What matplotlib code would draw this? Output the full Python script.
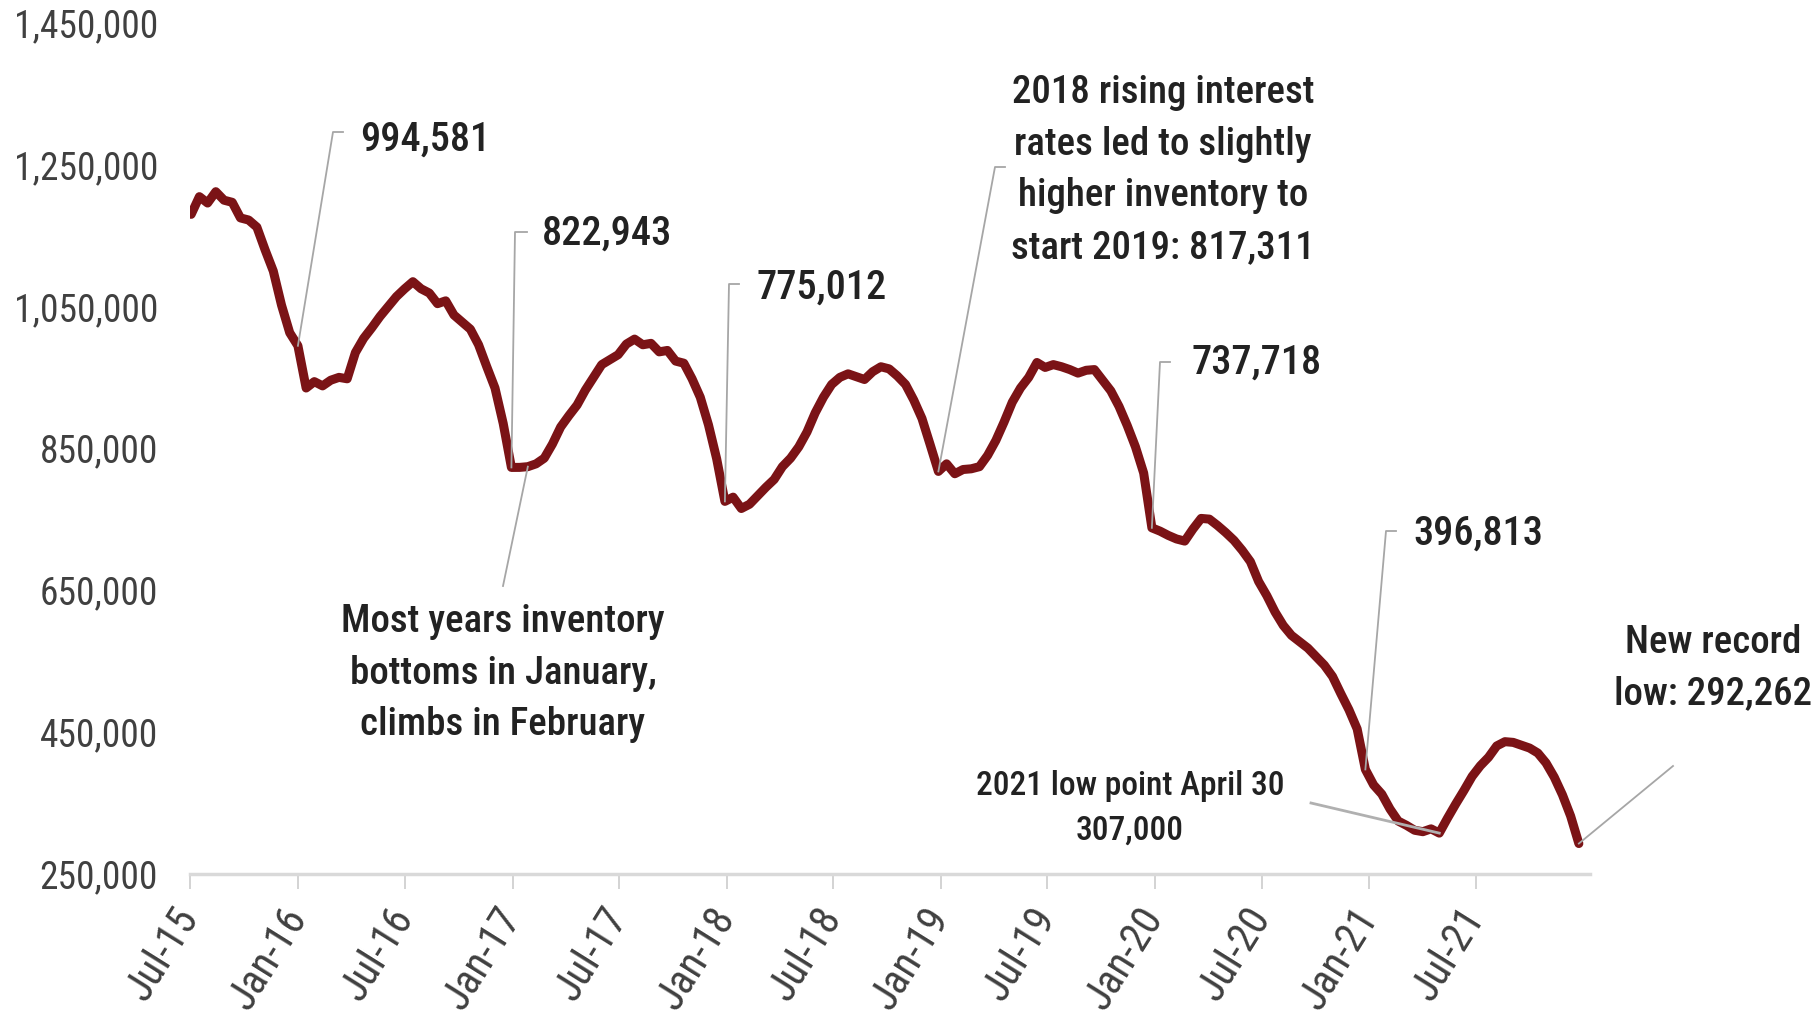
import matplotlib
matplotlib.use('agg')
import matplotlib.pyplot as plt
import matplotlib.dates as mdates
from matplotlib.lines import Line2D
import pandas as pd

# Active listings, one reading every two weeks starting the first Friday of July 2015
first_week = '2015-07-03'
inventory = [
    1180000, 1205000, 1196000, 1212000, 1200000, 1197000, 1175000, 1172000, 1162000, 1130000,
    1100000, 1052000, 1013000, 994581, 935000, 944000, 938000, 946000, 950000, 948000,
    985000, 1005000, 1020000, 1036000, 1050000, 1064000, 1075000, 1085000, 1075000, 1069000,
    1054000, 1058000, 1038000, 1028000, 1018000, 996000, 965000, 935000, 885000, 822943,
    823000, 824000, 828000, 836000, 856000, 880000, 896000, 911000, 932000, 950000,
    968000, 975000, 982000, 997000, 1004000, 996000, 998000, 986000, 988000, 973000,
    970000, 948000, 922000, 883000, 835000, 775012, 781000, 765000, 771000, 783000,
    795000, 806000, 824000, 836000, 852000, 873000, 900000, 922000, 940000, 950000,
    955000, 951000, 947000, 958000, 965000, 962000, 952000, 940000, 918000, 892000,
    855000, 817311, 828000, 814000, 820000, 821000, 824000, 840000, 861000, 887000,
    915000, 935000, 950000, 971000, 964000, 968000, 965000, 961000, 956000, 960000,
    961000, 946000, 931000, 909000, 882000, 852000, 815000, 737718, 733000, 727000,
    722000, 719000, 736000, 751000, 750000, 741000, 731000, 720000, 706000, 690000,
    662000, 642000, 619000, 600000, 586000, 577000, 568000, 556000, 544000, 528000,
    504000, 481000, 454000, 396813, 375000, 362000, 341000, 324000, 318000, 311000,
    309000, 313000, 307000, 328000, 348000, 367000, 387000, 402000, 414000, 430000,
    436000, 435000, 431000, 427000, 420000, 406000, 386000, 361000, 331000, 292262,
]
dates = pd.date_range(first_week, periods=len(inventory), freq='14D')

y_ticks = [250000, 450000, 650000, 850000, 1050000, 1250000, 1450000]
x_ticks = pd.date_range('2015-07-01', '2021-07-01', freq='6MS')
x_labels = [d.strftime('%b-%y') for d in x_ticks]

font = ['Roboto Condensed', 'DejaVu Sans']
plt.rcParams['font.family'] = font

W, H = 1819, 1031
fig = plt.figure(figsize=(W / 100, H / 100), dpi=100)
ax = fig.add_axes([190 / W, 1 - 873.5 / H, 1400 / W, 850.5 / H])

ax.plot(dates, inventory, color='#7b1316', linewidth=6.5, solid_joinstyle='round',
        solid_capstyle='round')

ax.set_ylim(250000, 1450000)
ax.set_xlim(pd.Timestamp('2015-07-01'), pd.Timestamp('2022-01-12'))
ax.set_yticks(y_ticks)
ax.set_yticklabels([f'{v:,}' for v in y_ticks], fontsize=27, color='#404040')
ax.set_xticks(x_ticks)
ax.set_xticklabels(x_labels, fontsize=30, color='#404040', rotation=58,
                   ha='right', va='center', rotation_mode='anchor')
ax.tick_params(axis='y', length=0, pad=23)
ax.tick_params(axis='x', length=11, width=1.3, color='#d0d0d0', pad=16)
for side in ['left', 'top', 'right']:
    ax.spines[side].set_visible(False)
ax.spines['bottom'].set_color('#d9d9d9')
ax.spines['bottom'].set_linewidth(2.5)


def point_xy(i):
    disp = ax.transData.transform((mdates.date2num(dates[i]), inventory[i]))
    return fig.transFigure.inverted().transform(disp)


def leader(i, corners, lw=1.3, color='#a6a6a6'):
    x0, y0 = point_xy(i)
    xs = [x0] + [c[0] / W for c in corners]
    ys = [y0] + [1 - c[1] / H for c in corners]
    fig.add_artist(Line2D(xs, ys, transform=fig.transFigure, color=color, lw=lw))


def note(x, y, s, size=28, ha='left'):
    fig.text(x / W, 1 - y / H, s, fontsize=size, fontweight='medium', color='#222222',
             ha=ha, va='center', linespacing=1.5)


# January readings
leader(13, [(333, 132), (343, 132)])
note(360, 140, f'{inventory[13]:,}', size=29)
leader(39, [(515, 232), (527, 232)])
note(542, 234, f'{inventory[39]:,}', size=29)
leader(65, [(729, 284), (739, 284)])
note(756, 288, f'{inventory[65]:,}', size=29)
leader(117, [(1160, 362), (1170, 362)])
note(1191, 363, f'{inventory[117]:,}', size=29)
leader(143, [(1386, 531), (1396, 531)])
note(1413, 534, f'{inventory[143]:,}', size=29)

# 2019 start
leader(91, [(995, 167), (1005, 167)])
note(1163, 170, '2018 rising interest\nrates led to slightly\nhigher inventory to\n'
     f'start 2019: {inventory[91]:,}', ha='center')

# seasonal pattern
leader(41, [(503, 586)])
note(503, 673, 'Most years inventory\nbottoms in January,\nclimbs in February', ha='center')

# 2021 lows
leader(152, [(1311, 803)], lw=2, color='#b0b0b0')
note(1130, 808, f'2021 low point April 30\n{inventory[152]:,}', size=24, ha='center')
leader(len(inventory) - 1, [(1673, 766)])
note(1713, 668, f'New record\nlow: {inventory[-1]:,}', ha='center')

fig.savefig('out.png', dpi=100, facecolor='white')
